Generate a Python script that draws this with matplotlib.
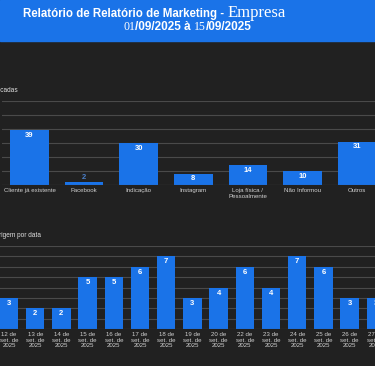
import matplotlib.pyplot as plt
from matplotlib.patches import Rectangle

# dados
origens = ["Cliente já existente", "Facebook", "Indicação", "Instagram",
           "Loja física /\nPessoalmente", "Não Informou", "Outros"]
qtd_origens = [39, 2, 30, 8, 14, 10, 31]

datas = ["12 de\nset. de\n2025", "13 de\nset. de\n2025", "14 de\nset. de\n2025",
         "15 de\nset. de\n2025", "16 de\nset. de\n2025", "17 de\nset. de\n2025",
         "18 de\nset. de\n2025", "19 de\nset. de\n2025", "20 de\nset. de\n2025",
         "22 de\nset. de\n2025", "23 de\nset. de\n2025", "24 de\nset. de\n2025",
         "25 de\nset. de\n2025", "26 de\nset. de\n2025", "27 de\nset. de\n2025"]
qtd_datas = [3, 2, 2, 5, 5, 6, 7, 3, 4, 6, 4, 7, 6, 3, 3]

plt.rcParams["font.family"] = ["Liberation Sans", "DejaVu Sans"]

W, H = 375, 366
BG = "#212121"
AZUL = "#1a73e8"
GRID = "#4a4a4a"
TXT = "#d0d0d0"

fig = plt.figure(figsize=(W / 100, H / 100), dpi=100, facecolor=BG)

# cabecalho azul
fig.patches.append(Rectangle((0, 1 - 41 / H), 1, 41 / H, transform=fig.transFigure,
                             color=AZUL, zorder=0))
sans = "Liberation Sans"
serif = "Liberation Serif"
t1 = fig.text(23 / W, 1 - 14 / H, "Relatório de Relatório de Marketing - ",
              color="white", fontsize=8.3, fontweight="bold", family=sans, va="center")
fig.canvas.draw()
r = fig.canvas.get_renderer()
x = t1.get_window_extent(r).x1
fig.text(x / W, 1 - 13 / H, "Empresa", color="white", fontsize=12, family=serif, va="center")

# segunda linha do titulo
partes = [("01", serif, "normal"), ("/09/2025 à ", sans, "bold"),
          ("15", serif, "normal"), ("/09/2025", sans, "bold")]
x = 123
for txt, fam, peso in partes:
    t = fig.text(x / W, 1 - 26.5 / H, txt, color="white", fontsize=8.5, family=fam,
                 fontweight=peso, va="center")
    x = t.get_window_extent(r).x1


def estilo(ax, ymax, passo):
    ax.set_facecolor(BG)
    for s in ax.spines.values():
        s.set_visible(False)
    ax.set_ylim(0, ymax)
    ax.set_yticks(range(0, ymax + 1, passo))
    ax.tick_params(axis="y", left=False, labelleft=False)
    ax.tick_params(axis="x", length=0, colors=TXT, labelsize=4.4, pad=2)
    ax.grid(axis="y", color=GRID, linewidth=0.8)
    ax.set_axisbelow(True)
    ax.axhline(0, color=GRID, linewidth=0.8)


# grafico de origens
n = len(origens)
esp = 54.6
l = 29.5 - esp / 2
ax1 = fig.add_axes([l / W, 1 - 185 / H, esp * n / W, 84 / H])
ax1.bar(range(n), qtd_origens, width=0.71, color=AZUL)
ax1.set_xlim(-0.5, n - 0.5)
ax1.set_xticks(range(n))
ax1.set_xticklabels(origens)
estilo(ax1, 60, 10)
for i, v in enumerate(qtd_origens):
    if v < 5:
        ax1.text(i, v + 1, str(v), ha="center", va="bottom", color="#4a7fc8",
                 fontsize=5.5, fontweight="bold")
    else:
        ax1.text(i, v - 1.2, str(v), ha="center", va="top", color="white",
                 fontsize=5.5, fontweight="bold")
fig.text(18 / W, 1 - 90 / H, "Origens identificadas", ha="right", va="center",
         color="#e0e0e0", fontsize=4.7)

# grafico por data
m = len(datas)
esp2 = 26.2
l2 = 9 - esp2 / 2
ax2 = fig.add_axes([l2 / W, 1 - 329 / H, esp2 * m / W, 83 / H])
ax2.bar(range(m), qtd_datas, width=0.7, color=AZUL)
ax2.set_xlim(-0.5, m - 0.5)
ax2.set_xticks(range(m))
ax2.set_xticklabels(datas, linespacing=1.2)
estilo(ax2, 8, 1)
for i, v in enumerate(qtd_datas):
    ax2.text(i, v - 0.2, str(v), ha="center", va="top", color="white",
             fontsize=5.5, fontweight="bold")
fig.text(41 / W, 1 - 235 / H, "Origem por data", ha="right", va="center",
         color="#e0e0e0", fontsize=4.7)

fig.savefig("out.png", dpi=100, facecolor=BG)
